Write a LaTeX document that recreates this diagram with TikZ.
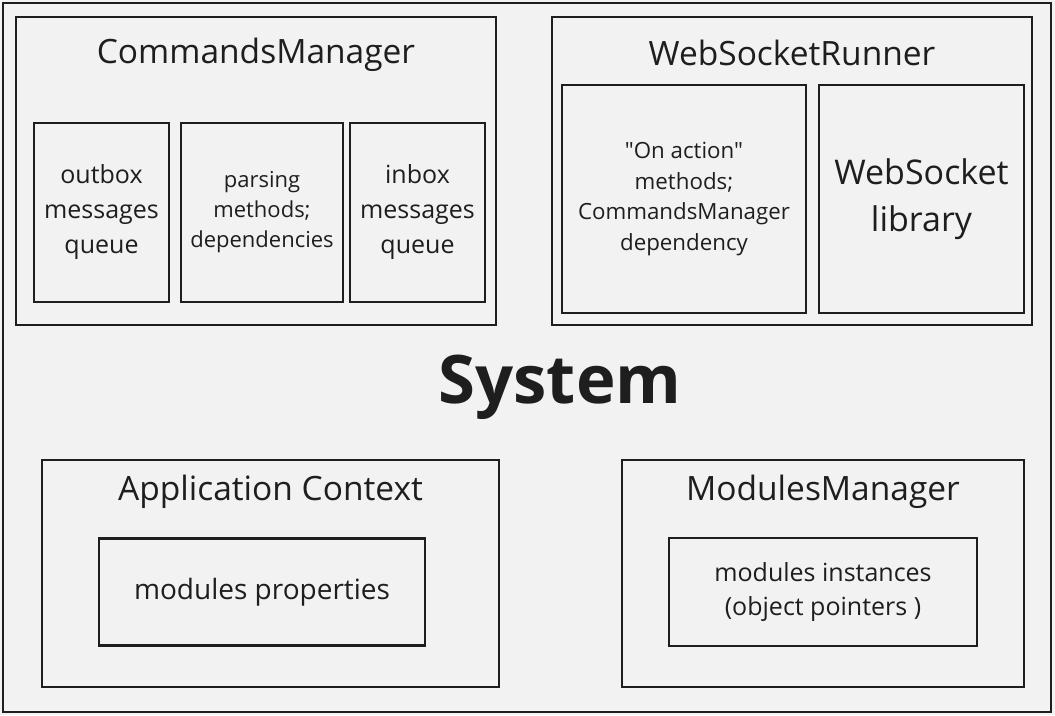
\documentclass[tikz,border=0pt]{standalone}
\usepackage{fontspec}
\setmainfont{Open Sans}[Ligatures=TeXOff]
\usepackage{tikz}
\usepackage{xcolor}
\usetikzlibrary{positioning}
\definecolor{paper}{RGB}{242,242,242}
\definecolor{ink}{RGB}{30,30,30}

\begin{document}
\begin{tikzpicture}[x=1pt,y=-1pt,
    box/.style={draw=ink, line width=2.8pt, inner sep=0pt, align=center, text=ink},
    title/.style={text=ink, font=\fontsize{33.5}{38}\selectfont}]
      \fill[paper] (0,0) rectangle (1055,715);
      \draw[ink, line width=2.8pt] (3,3) rectangle (1051,712);
      \node[box, minimum width=480, minimum height=308] (cmd) at (256,171) {};
      \node[title] (cmdt) at (256,55) {CommandsManager};
      \node[box, minimum width=135, minimum height=179, font=\fontsize{25}{35}\selectfont] (outbox) at (101.5,212.5) {outbox\\messages\\queue};
      \node[box, minimum width=162, minimum height=179, font=\fontsize{22}{30}\selectfont] (parse) at (262,212.5) {parsing\\methods;\\dependencies};
      \node[box, minimum width=135, minimum height=179, font=\fontsize{25}{35}\selectfont] (inbox) at (417.5,212.5) {inbox\\messages\\queue};
      \node[box, minimum width=480, minimum height=308] (wsr) at (792,171) {};
      \node[title] (wsrt) at (792,53) {WebSocketRunner};
      \node[box, minimum width=244, minimum height=228, font=\fontsize{22.3}{30.5}\selectfont] (onact) at (684,199) {"On action"\\methods;\\CommandsManager\\dependency};
      \node[box, minimum width=205, minimum height=228, font=\fontsize{34}{47}\selectfont] (wslib) at (921.5,199) {WebSocket\\library};
      \node[text=ink, font=\fontsize{67}{74}\selectfont\bfseries] (sys) at (560,387) {System};
      \node[box, minimum width=457, minimum height=227] (app) at (270.5,573.5) {};
      \node[title] (appt) at (270.5,492) {Application Context};
      \node[box, minimum width=326, minimum height=107, font=\fontsize{28}{34}\selectfont] (props) at (262,592) {modules properties};
      \node[box, minimum width=402, minimum height=227] (mods) at (823,573.5) {};
      \node[title] (modst) at (823,492) {ModulesManager};
      \node[box, minimum width=308, minimum height=108, font=\fontsize{25}{34}\selectfont] (inst) at (823,592) {modules instances\\(object pointers )};
    \end{tikzpicture}
\end{document}
